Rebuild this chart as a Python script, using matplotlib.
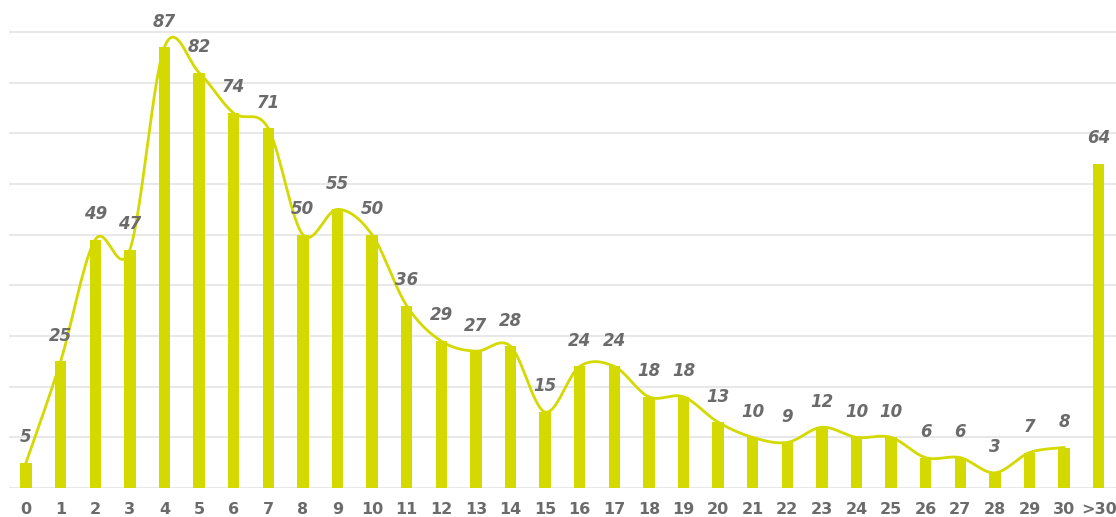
import numpy as np
import matplotlib
matplotlib.use("Agg")
import matplotlib.pyplot as plt

categories = [str(i) for i in range(31)] + [">30"]
counts = [5, 25, 49, 47, 87, 82, 74, 71, 50, 55, 50, 36, 29, 27, 28, 15,
          24, 24, 18, 18, 13, 10, 9, 12, 10, 10, 6, 6, 3, 7, 8, 64]
# the smoothed trend line covers only the single-day categories (0..30)
trend_n = 31

BAR = "#d4d900"
TXT = "#6b6b6b"


def smooth(xs, ys, steps=30):
    # Catmull-Rom style bezier, roughly like a spreadsheet "smoothed line"
    px, py = [], []
    n = len(xs)
    for i in range(n - 1):
        x0, y0 = (xs[i - 1], ys[i - 1]) if i > 0 else (xs[i], ys[i])
        x1, y1 = xs[i], ys[i]
        x2, y2 = xs[i + 1], ys[i + 1]
        x3, y3 = (xs[i + 2], ys[i + 2]) if i + 2 < n else (x2, y2)
        c1 = (x1 + (x2 - x0) / 6, y1 + (y2 - y0) / 6)
        c2 = (x2 - (x3 - x1) / 6, y2 - (y3 - y1) / 6)
        t = np.linspace(0, 1, steps)
        a, b, c, d = (1 - t) ** 3, 3 * (1 - t) ** 2 * t, 3 * (1 - t) * t ** 2, t ** 3
        px.extend(a * x1 + b * c1[0] + c * c2[0] + d * x2)
        py.extend(a * y1 + b * c1[1] + c * c2[1] + d * y2)
    return px, py


fig = plt.figure(figsize=(11.16, 5.17), dpi=100)
ax = fig.add_axes([0.0078, 0.056, 0.9922, 0.887])

x = np.arange(len(categories))
ax.bar(x, counts, width=0.33, color=BAR, zorder=2)

sx, sy = smooth(list(x[:trend_n]), counts[:trend_n])
ax.plot(sx, sy, color=BAR, lw=2, zorder=3)

for xi, v in zip(x, counts):
    ax.annotate(str(v), (xi, v), xytext=(0, 12), textcoords="offset points",
                ha="center", va="bottom", fontsize=12, fontweight="bold",
                fontstyle="italic", color=TXT)

ax.set_xlim(-0.5, len(categories) - 0.5)
ax.set_ylim(0, 90.5)
ax.set_yticks(np.arange(0, 91, 10))
ax.yaxis.grid(True, color="#e8e8e8", lw=1.5, zorder=0)
ax.set_axisbelow(True)
ax.tick_params(axis="y", left=False, labelleft=False)
ax.tick_params(axis="x", length=0, pad=10)
ax.set_xticks(x)
ax.set_xticklabels(categories, fontsize=11.5, fontweight="bold", color=TXT)
for s in ax.spines.values():
    s.set_visible(False)

fig.savefig("out.png", dpi=100)
